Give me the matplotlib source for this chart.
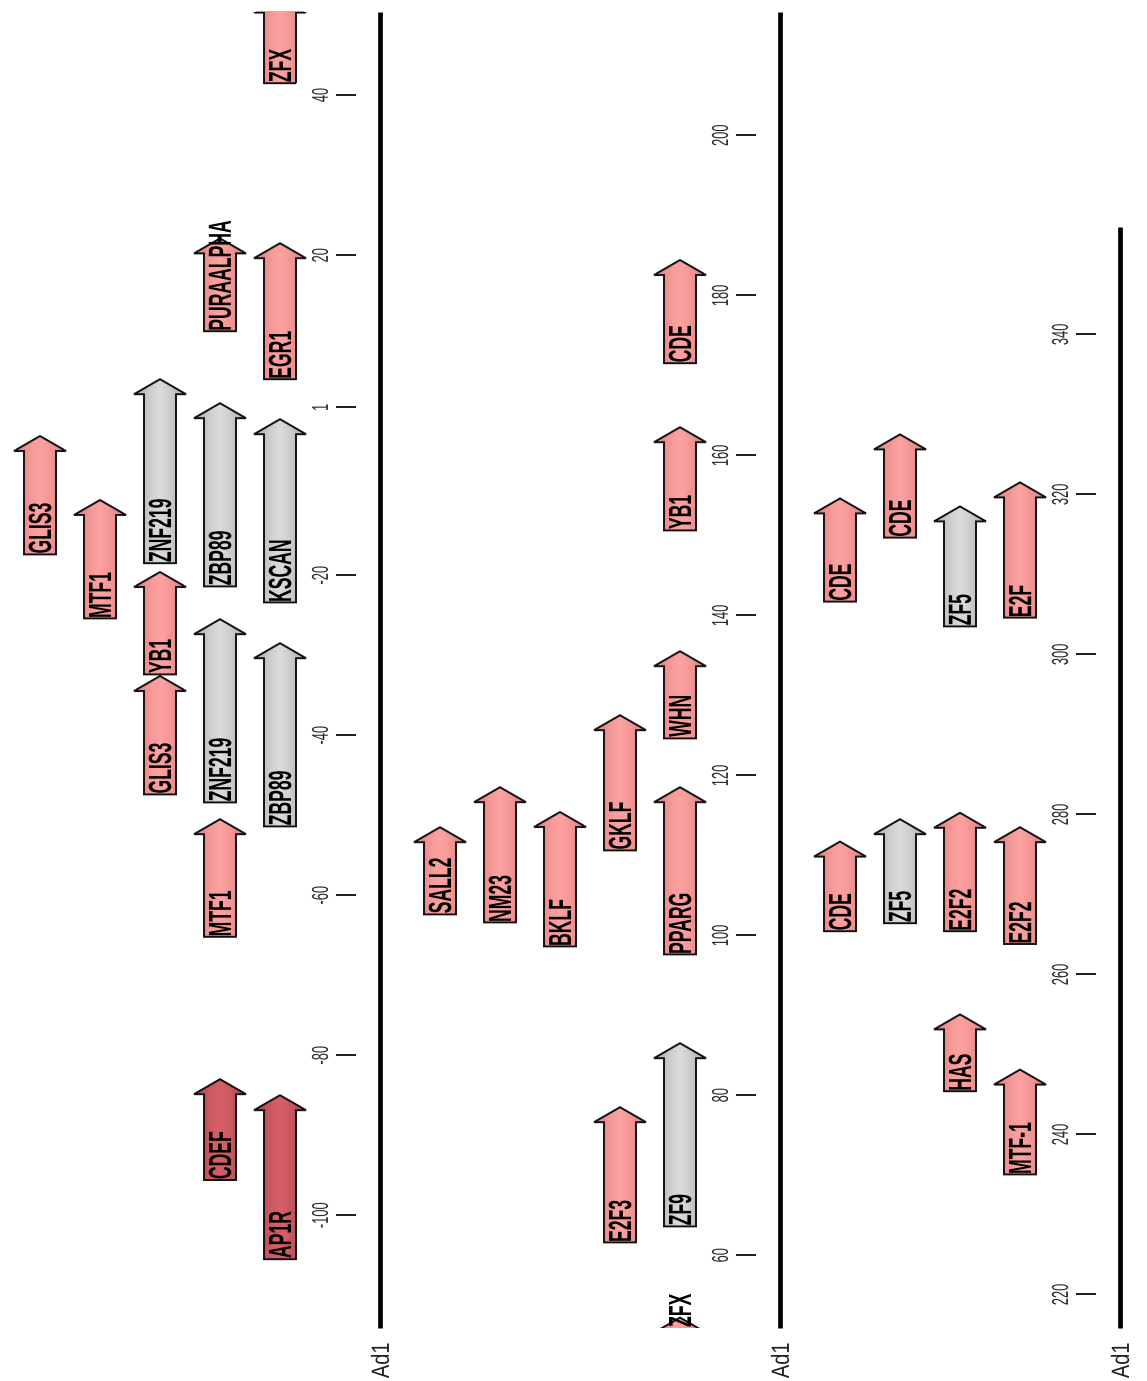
import numpy as np
import matplotlib
matplotlib.use("Agg")
import matplotlib.pyplot as plt
from matplotlib.patches import Polygon, Rectangle, PathPatch
from matplotlib.textpath import TextPath
from matplotlib.font_manager import FontProperties
from matplotlib.transforms import Affine2D
from matplotlib.colors import to_rgb

# binding sites along Ad1 (track 1 = closest to the sequence line)
site_names = ["ZFX", "EGR1", "KSCAN", "ZBP89", "AP1R",
              "PURAALPHA", "ZBP89", "ZNF219", "MTF1", "CDEF",
              "ZNF219", "YB1", "GLIS3", "MTF1", "GLIS3",
              "ZF9", "PPARG", "WHN", "YB1", "CDE",
              "E2F3", "GKLF", "BKLF", "NM23", "SALL2",
              "MTF-1", "E2F2", "E2F", "HAS", "E2F2", "ZF5",
              "ZF5", "CDE", "CDE", "CDE"]
site_start = [41.5, 4.5, -23.4, -51.4, -105.5,
              10.5, -21.4, -48.4, -65.2, -95.6,
              -18.5, -32.4, -47.4, -25.4, -17.4,
              63.6, 97.6, 124.6, 150.6, 171.5,
              61.6, 110.6, 98.6, 101.6, 102.6,
              235.0, 263.8, 304.6, 245.4, 265.4, 303.5,
              266.4, 314.6, 265.4, 306.6]
site_end = [52.2, 21.5, -0.5, -28.5, -85.0,
            22.1, 1.5, -25.5, -50.5, -83.0,
            4.5, -19.6, -32.6, -10.6, -2.6,
            86.5, 118.5, 135.5, 163.5, 184.4,
            78.5, 127.5, 115.4, 118.5, 113.5,
            248.1, 278.4, 321.5, 255.0, 280.2, 318.5,
            279.4, 327.5, 276.6, 319.5]
site_track = [1, 1, 1, 1, 1,
              2, 2, 2, 2, 2,
              3, 3, 3, 4, 5,
              1, 1, 1, 1, 1,
              2, 2, 3, 4, 5,
              1, 1, 1, 2, 2, 2,
              3, 3, 4, 4]
site_kind = ["pink", "pink", "grey", "grey", "dark",
             "pink", "grey", "grey", "pink", "dark",
             "grey", "pink", "pink", "pink", "pink",
             "grey", "pink", "pink", "pink", "pink",
             "pink", "pink", "pink", "pink", "pink",
             "pink", "pink", "pink", "pink", "pink", "grey",
             "grey", "pink", "pink", "pink"]

# the sequence is wrapped onto three rows
seq_name = "Ad1"
row_lo = [-114.1, 50.9, 215.8]
row_hi = [50.4, 215.4, 353.4]
row_ticks = [[-100, -80, -60, -40, -20, 1, 20, 40],
             [60, 80, 100, 120, 140, 160, 180, 200],
             [220, 240, 260, 280, 300, 320, 340]]

colors = {"pink": ("#fca0a0", "#dc7a7a"),
          "grey": ("#dadada", "#a8a8a8"),
          "dark": ("#d65f67", "#aa444c")}

W, H = 1147, 1381
PX_BP = 8.0
axis_px = [380, 780, 1120]
first_track, track_gap = 100, 60
body_half, head_half = 16, 26
head_len = 15 / PX_BP

label_font = FontProperties(family="Liberation Sans", weight="bold")
tick_font = FontProperties(family="Liberation Sans")


def shade(kind, n=64):
    center, edge = (np.array(to_rgb(c)) for c in colors[kind])
    t = np.abs(np.linspace(-1, 1, n)) ** 1.4
    return (center * (1 - t)[:, None] + edge * t[:, None])[None, :, :]


def squeezed(ax, x, y, s, size, squeeze, font, color, start=True):
    tp = TextPath((0, 0), s, size=size, prop=font)
    bb = tp.get_extents()
    px, py = ax.transData.transform((x, y))
    x0 = bb.x0 if start else (bb.x0 + bb.x1) / 2
    tr = (Affine2D().translate(-x0, -(bb.y0 + bb.y1) / 2)
          .scale(squeeze, 1).rotate_deg(90).translate(px, py))
    ax.add_artist(PathPatch(tp, transform=tr, fc=color, ec="none",
                            clip_on=False, zorder=5))


fig = plt.figure(figsize=(W / 100, H / 100), dpi=100)

for i in range(3):
    lo, hi = row_lo[i], row_hi[i]
    ax = fig.add_axes([(axis_px[i] - 380) / W, 0, 400 / W, 1])
    bottom = lo - 53 / PX_BP
    ax.set_xlim(380, -20)
    ax.set_ylim(bottom, bottom + H / PX_BP)
    ax.axis("off")

    ax.plot([0, 0], [lo, hi], color="black", lw=3.4, solid_capstyle="butt")
    for t in row_ticks[i]:
        ax.plot([25, 43], [t, t], color="#1a1a1a", lw=1.4)

    labels = []
    for name, s, e, trk, kind in zip(site_names, site_start, site_end,
                                     site_track, site_kind):
        if e < lo or s > hi:
            continue
        c = first_track + (trk - 1) * track_gap
        hs = min(head_len, e - s)
        verts = [(c - body_half, s), (c + body_half, s),
                 (c + body_half, e - hs), (c + head_half, e - hs),
                 (c, e), (c - head_half, e - hs), (c - body_half, e - hs)]
        outline = Polygon(verts, closed=True, fc="none", ec="#111111",
                          lw=1.4, zorder=3)
        ax.add_patch(outline)
        outline.set_clip_path(Rectangle((-100, lo), 600, hi - lo,
                                        transform=ax.transData))
        img = ax.imshow(shade(kind), extent=(c - head_half, c + head_half,
                                             max(s, lo), min(e, hi)),
                        aspect="auto", interpolation="bilinear", zorder=2)
        img.set_clip_path(outline)
        labels.append((c, max(s, lo) + 0.2, name))

    ax.set_xlim(380, -20)
    ax.set_ylim(bottom, bottom + H / PX_BP)

    for c, y, name in labels:
        squeezed(ax, c, y, name, 32, 0.55, label_font, "black")
    for t in row_ticks[i]:
        squeezed(ax, 60, t, str(t), 23, 0.56, tick_font, "#2a2a2a", start=False)
    squeezed(ax, 0, lo - 4.1, seq_name, 25, 0.8, tick_font, "#222222", start=False)

fig.savefig("out.png", dpi=100)
